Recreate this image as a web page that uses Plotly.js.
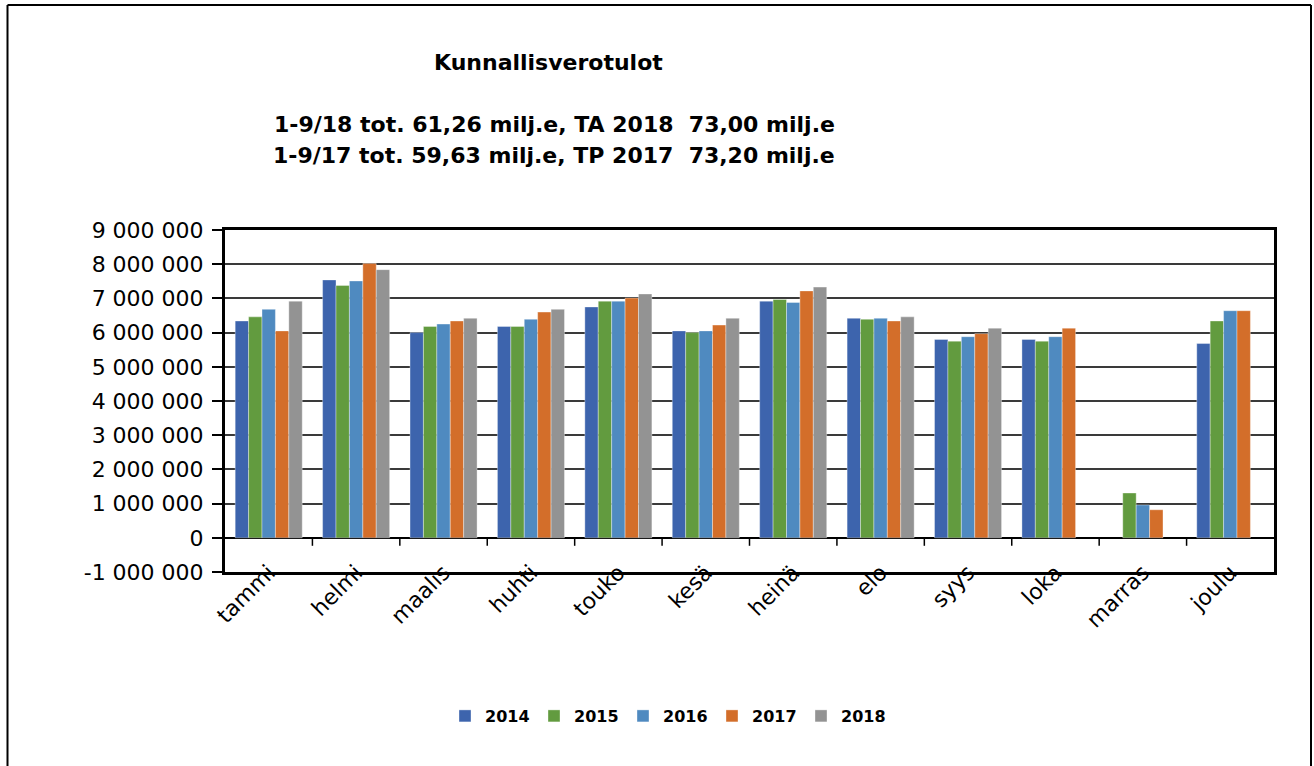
<!DOCTYPE html>
<html>
<head>
<meta charset="utf-8">
<script src="https://cdn.plot.ly/plotly-3.0.1.min.js"></script>
<style>
  html, body { margin: 0; padding: 0; background: #ffffff; }
  #chart { width: 1314px; height: 766px; }
</style>
</head>
<body>
<div id="chart"></div>
<script>
// ---- data ----
var months = ['tammi', 'helmi', 'maalis', 'huhti', 'touko', 'kesä', 'heinä', 'elo', 'syys', 'loka', 'marras', 'joulu'];
var seriesNames = ['2014', '2015', '2016', '2017', '2018'];
var v2014 = [6340000, 7540000, 6000000, 6180000, 6750000, 6050000, 6920000, 6420000, 5800000, 5800000, null, 5680000];
var v2015 = [6460000, 7380000, 6180000, 6180000, 6920000, 6000000, 6970000, 6390000, 5750000, 5750000, 1310000, 6340000];
var v2016 = [6680000, 7510000, 6250000, 6390000, 6920000, 6050000, 6880000, 6420000, 5880000, 5880000, 960000, 6640000];
var v2017 = [6050000, 8020000, 6340000, 6600000, 7010000, 6220000, 7220000, 6340000, 5970000, 6130000, 820000, 6640000];
var v2018 = [6920000, 7840000, 6420000, 6680000, 7130000, 6420000, 7330000, 6460000, 6130000, null, null, null];
var yTickVals = [-1000000, 0, 1000000, 2000000, 3000000, 4000000, 5000000, 6000000, 7000000, 8000000, 9000000];
var yTickText = ['-1 000 000', '0', '1 000 000', '2 000 000', '3 000 000', '4 000 000', '5 000 000', '6 000 000', '7 000 000', '8 000 000', '9 000 000'];
var titleText = 'Kunnallisverotulot';
var subLine1 = '1-9/18 tot. 61,26 milj.e, TA 2018  73,00 milj.e';
var subLine2 = '1-9/17 tot. 59,63 milj.e, TP 2017  73,20 milj.e';

// ---- style ----
var colors = ['#3d64ad', '#629b3f', '#4f8ac0', '#d36e2a', '#939393'];
var W = 1314, H = 766;
var M = { l: 225, r: 40, t: 230, b: 194 };
var PW = W - M.l - M.r, PH = H - M.t - M.b;
function px(x) { return (x - M.l) / PW; }
function py(y) { return (H - M.b - y) / PH; }
var FONT = 'DejaVu Sans, Liberation Sans, Arial, sans-serif';

var allVals = [v2014, v2015, v2016, v2017, v2018];
var traces = allVals.map(function (vals, i) {
  return {
    type: 'bar',
    name: seriesNames[i],
    x: months,
    y: vals,
    marker: { color: colors[i], line: { color: 'rgba(255,255,255,0.6)', width: 0.6 } },
    hoverinfo: 'x+y+name'
  };
});

// tick marks on the zero line at the category boundaries
var shapes = [];
for (var k = 0; k < months.length - 1; k++) {
  shapes.push({
    type: 'line', xref: 'x', yref: 'y', x0: k + 0.5, x1: k + 0.5,
    ysizemode: 'pixel', yanchor: 0, y0: 0, y1: -8,
    line: { color: '#000000', width: 1.5 }
  });
}
// outer chart frame
shapes.push({ type: 'line', xref: 'paper', yref: 'paper', x0: px(7.5), x1: px(1311), y0: py(5), y1: py(5), line: { color: '#000', width: 2 } });
shapes.push({ type: 'line', xref: 'paper', yref: 'paper', x0: px(7.5), x1: px(7.5), y0: py(5), y1: py(770), line: { color: '#000', width: 2 } });
shapes.push({ type: 'line', xref: 'paper', yref: 'paper', x0: px(1311), x1: px(1311), y0: py(5), y1: py(770), line: { color: '#000', width: 2 } });

var annotations = [
  { text: titleText, xref: 'paper', yref: 'paper', x: px(548), y: py(62), xanchor: 'center', yanchor: 'middle', showarrow: false, font: { family: FONT, size: 22, color: '#000', weight: 'bold' } },
  { text: subLine1, xref: 'paper', yref: 'paper', x: px(554), y: py(124), xanchor: 'center', yanchor: 'middle', showarrow: false, font: { family: FONT, size: 22, color: '#000', weight: 'bold' } },
  { text: subLine2, xref: 'paper', yref: 'paper', x: px(554), y: py(155), xanchor: 'center', yanchor: 'middle', showarrow: false, font: { family: FONT, size: 22, color: '#000', weight: 'bold' } }
];

var layout = {
  width: W, height: H,
  margin: M,
  paper_bgcolor: '#ffffff',
  plot_bgcolor: '#ffffff',
  font: { family: FONT, color: '#000000' },
  barmode: 'group',
  bargap: 0.233,
  bargroupgap: 0,
  showlegend: true,
  legend: {
    orientation: 'h',
    x: px(445), xanchor: 'left',
    y: py(716), yanchor: 'middle',
    font: { family: FONT, size: 16, color: '#000', weight: 'bold' },
    entrywidth: 44, entrywidthmode: 'pixels',
    traceorder: 'normal'
  },
  xaxis: {
    type: 'category',
    tickangle: -45,
    tickfont: { family: FONT, size: 22, color: '#000' },
    ticks: '',
    showline: true, linecolor: '#000000', linewidth: 3, mirror: true,
    showgrid: false,
    ticklabelstandoff: -24,
    fixedrange: true
  },
  yaxis: {
    range: [-1000000, 9000000],
    tickvals: yTickVals,
    ticktext: yTickText,
    tickfont: { family: FONT, size: 22, color: '#000' },
    ticks: 'outside', ticklen: 10, tickwidth: 1.5, tickcolor: '#000',
    showline: true, linecolor: '#000000', linewidth: 3, mirror: true,
    showgrid: true, gridcolor: '#3a3a3a', gridwidth: 1.5,
    zeroline: true, zerolinecolor: '#000000', zerolinewidth: 2,
    ticklabelstandoff: 4,
    fixedrange: true
  },
  shapes: shapes,
  annotations: annotations
};

Plotly.newPlot('chart', traces, layout, { displayModeBar: false, staticPlot: false });
</script>
</body>
</html>
